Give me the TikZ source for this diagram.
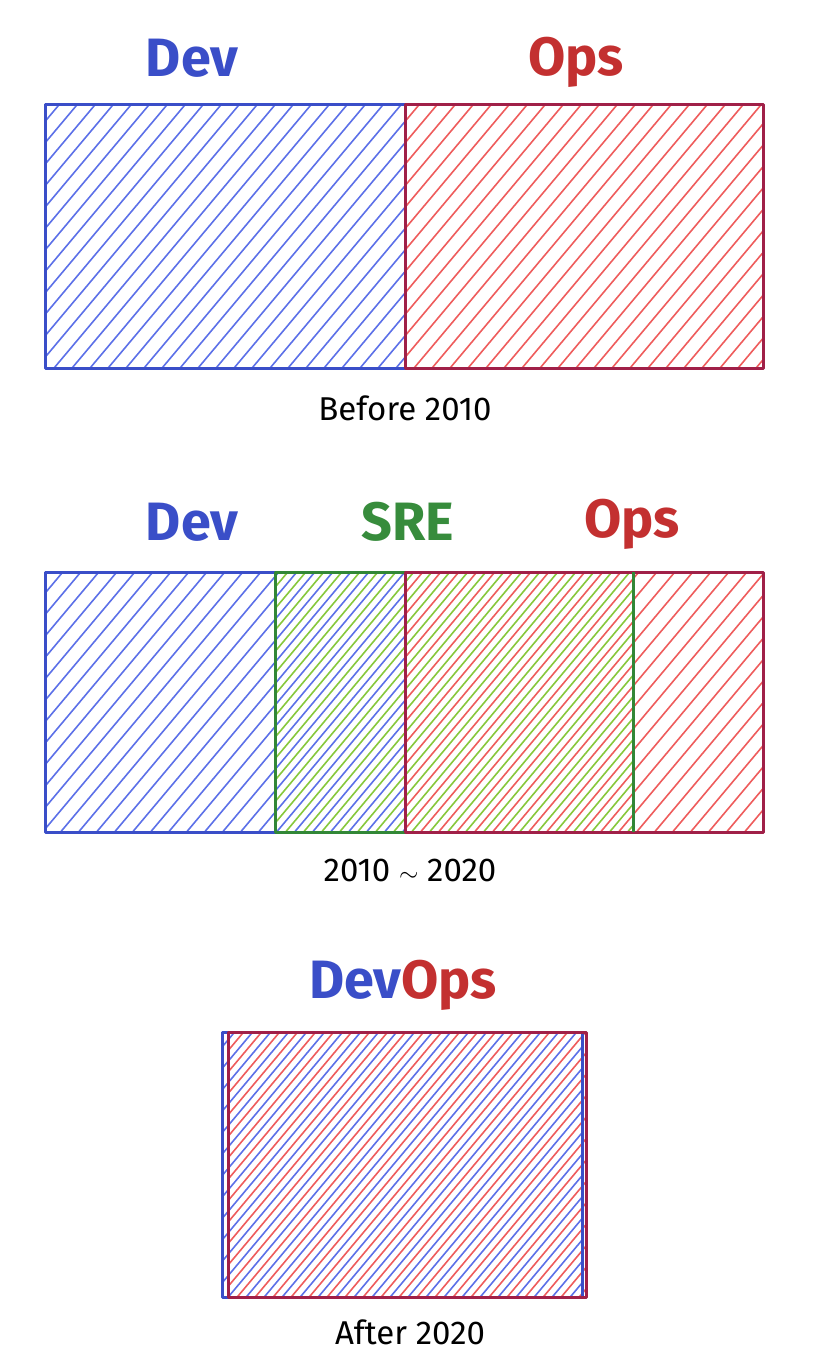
\documentclass[tikz,border=0pt]{standalone}
\usepackage{fontspec}
\setmainfont{Fira Sans}

\definecolor{devline}{RGB}{58,78,200}
\definecolor{devhatch}{RGB}{92,112,232}
\definecolor{opsline}{RGB}{160,32,72}
\definecolor{opshatch}{RGB}{238,92,92}
\definecolor{sreline}{RGB}{50,135,55}
\definecolor{srehatch}{RGB}{135,200,60}
\definecolor{devtext}{RGB}{58,78,200}
\definecolor{opstext}{RGB}{195,48,48}
\definecolor{sretext}{RGB}{55,140,60}

\tikzset{
  box/.style={inner sep=0pt, outer sep=0pt},
  edge/.style={line width=3pt, line join=round},
  hatchline/.style={line width=1.6pt},
  team/.style={font=\fontsize{54}{60}\selectfont\bfseries, inner sep=0pt},
  era/.style={font=\fontsize{33}{38}\selectfont, inner sep=0pt, text=black}
}
% #1 colour, #2 node, #3 shift
\newcommand{\hatchbox}[3]{%
  \begin{scope}
    \clip (#2.north west) rectangle (#2.south east);
    \foreach \k in {-1160,-1142,...,820}
      \draw[#1, hatchline] (\k+#3,1364) -- ++(1145,-1364);
  \end{scope}}

\begin{document}
\begin{tikzpicture}[x=1pt,y=-1pt]
\useasboundingbox (0,0) rectangle (818,1364);
% before 2010
\node[box, minimum width=360pt, minimum height=263pt] (dev1) at (225,236.5) {};
\node[box, minimum width=358pt, minimum height=263pt] (ops1) at (584,236.5) {};
\hatchbox{devhatch}{dev1}{0}
\hatchbox{opshatch}{ops1}{0}
\draw[devline, edge] (dev1.north west) rectangle (dev1.south east);
\draw[opsline, edge] (ops1.north west) rectangle (ops1.south east);
\node[team, text=devtext] (devlab1) at (192,58) {Dev};
\node[team, text=opstext] (opslab1) at (576,62) {Ops};
\node[era] (era1) at (405,408) {Before 2010};
% 2010 ~ 2020
\node[box, minimum width=360pt, minimum height=260pt] (dev2) at (225,702) {};
\node[box, minimum width=358pt, minimum height=260pt] (sre2) at (454,702) {};
\node[box, minimum width=358pt, minimum height=260pt] (ops2) at (584,702) {};
\hatchbox{devhatch}{dev2}{0}
\hatchbox{srehatch}{sre2}{9}
\hatchbox{opshatch}{ops2}{0}
\draw[devline, edge] (dev2.north west) rectangle (dev2.south east);
\draw[sreline, edge] (sre2.north west) rectangle (sre2.south east);
\draw[opsline, edge] (ops2.north west) rectangle (ops2.south east);
\draw[sreline, edge] (sre2.north east) -- (sre2.south east);
\node[team, text=devtext] (devlab2) at (192,522) {Dev};
\node[team, text=sretext] (srelab2) at (408,522) {SRE};
\node[team, text=opstext] (opslab2) at (632,524) {Ops};
\node[era] (era2) at (410,870) {2010 $\sim$ 2020};
% after 2020
\node[box, minimum width=360pt, minimum height=265pt] (dev3) at (402,1164.5) {};
\node[box, minimum width=358pt, minimum height=265pt] (ops3) at (407,1164.5) {};
\hatchbox{devhatch}{dev3}{0}
\hatchbox{opshatch}{ops3}{9}
\draw[devline, edge] (dev3.north west) rectangle (dev3.south east);
\draw[opsline, edge] (ops3.north west) rectangle (ops3.south east);
\node[team] (devopslab) at (403,985) {\textcolor{devtext}{Dev}\textcolor{opstext}{Ops}};
\node[era] (era3) at (410,1332) {After 2020};
\end{tikzpicture}
\end{document}
